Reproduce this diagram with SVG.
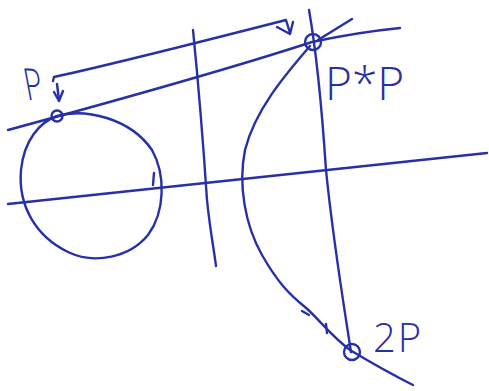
<svg xmlns="http://www.w3.org/2000/svg" width="489" height="391" viewBox="0 0 489 391">
<style>
.s{fill:none;stroke:#2730a6;stroke-width:2.4;stroke-linecap:round;stroke-linejoin:round}
.t{font-family:"Open Sans","Liberation Sans",Arial,sans-serif;fill:#2730a6;font-weight:300}
</style>
<rect width="489" height="391" fill="#fff"/>
<g id="connectors">
<path class="s" d="M8,204 C120,192 300,172 487,153"/>
<path class="s" d="M8,130 C100,105 220,72 312,42 C340,36 370,31 400,28"/>
<path class="s" d="M318,40 L352,19"/>
<path class="s" d="M193,30 C200,100 205,170 207,200 C210,230 214,250 216,266"/>
<path class="s" d="M309,10 C316,50 322,110 326,170 C333,240 343,300 351,352"/>
<path class="s" d="M310,46 C285,75 255,110 245,150 C238,185 245,225 262,255 C278,283 290,295 305,307 C318,318 330,335 350,350 C375,365 395,376 413,385"/>
<path class="s" d="M302,311 L309,315"/>
<path class="s" d="M326,324 L327,333"/>
<path class="s" d="M53,81 L54,77 C110,65 200,42 286,20 L290,33"/>
<path class="s" d="M277,27 L290,34 L293,22"/>
<path class="s" d="M57,84 L59,100"/>
<path class="s" d="M54,92 L59,101 L63,91"/>
<path class="s" d="M57,116 C85,108 130,118 152,150 C166,175 165,212 148,235 C130,257 95,265 68,252 C35,236 18,205 21,170 C24,140 40,122 57,116"/>
<path class="s" d="M154,173 L153,185"/>
</g>
<g id="nodePP">
<circle class="s" cx="313" cy="42" r="8"/>
<text class="t" x="325" y="100" font-size="46" letter-spacing="0">P*P</text>
</g>
<g id="node2P">
<circle class="s" cx="352" cy="352" r="8"/>
<text class="t" x="373" y="352" font-size="40" letter-spacing="2">2P</text>
</g>
<g id="nodeP">
<circle class="s" cx="57" cy="116" r="5.5"/>
<text class="t" transform="translate(27,100) scale(0.7,1) skewX(15)" font-size="44" font-weight="400">P</text>
</g>
</svg>
